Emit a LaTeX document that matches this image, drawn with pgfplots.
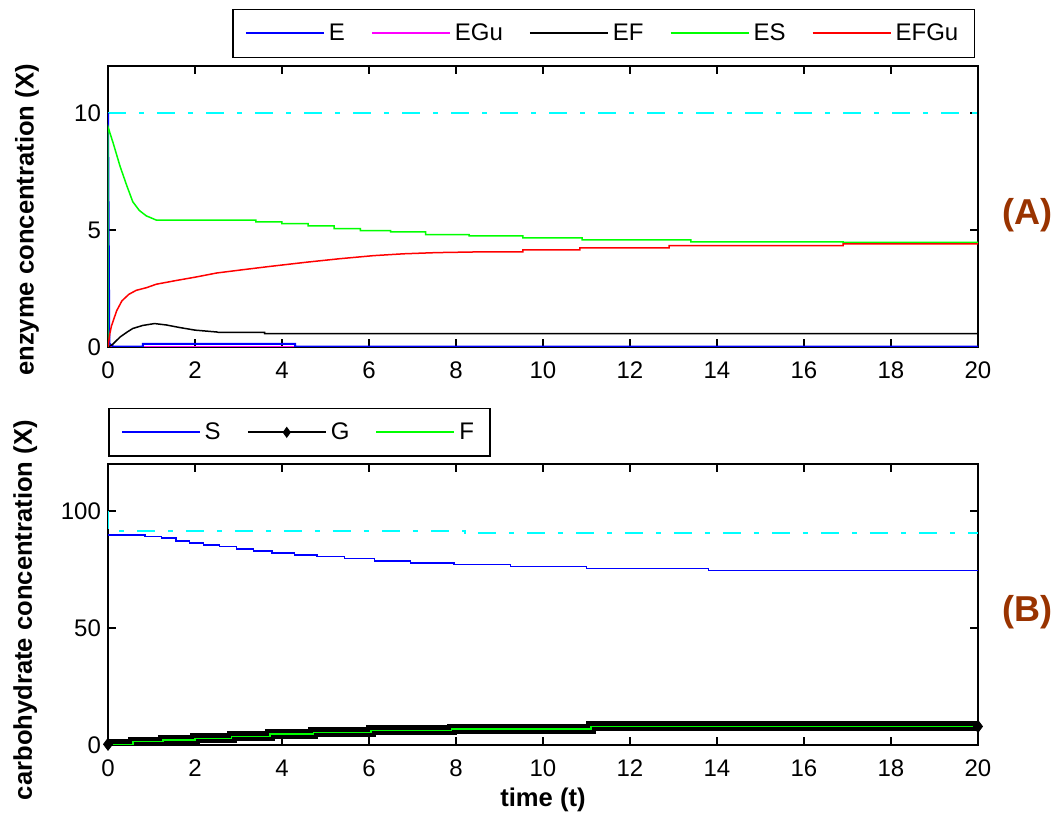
\documentclass[border=0pt]{standalone}
\usepackage{fontspec}
\setmainfont{Liberation Sans}
\usepackage{pgfplots}
\pgfplotsset{compat=1.18}

\definecolor{panelbrown}{rgb}{0.6,0.2,0}
\definecolor{mblue}{rgb}{0,0,1}
\definecolor{mgreen}{rgb}{0,1,0}
\definecolor{mred}{rgb}{1,0,0}
\definecolor{mcyan}{rgb}{0,1,1}
\definecolor{mmagenta}{rgb}{1,0,1}

\tikzset{dashdot/.style={mcyan, line width=1pt, dash pattern=on 9pt off 6.5pt on 2.5pt off 6.5pt}}

\pgfplotsset{
  panel/.style={
    scale only axis, width=435pt, height=140.5pt,
    xmin=0, xmax=20, xtick={0,2,...,20},
    tick align=inside, major tick length=4pt,
    axis line style={line width=0.75pt},
    every tick/.style={black, line width=0.75pt},
    tick label style={font=\fontsize{12}{14}\selectfont},
    xticklabel style={yshift=-4pt},
    /pgf/number format/assume math mode=true,
    label style={font=\bfseries\fontsize{12.8}{15}\selectfont},
    legend cell align=left,
    legend style={line width=0.75pt,
      font=\fontsize{12}{14}\selectfont,
      inner xsep=6pt, inner ysep=5pt},
  },
  linelegend/.style={legend image code/.code={
    \draw[draw=#1, line width=1pt] (0pt,0pt) -- (39pt,0pt);}},
}

\begin{document}
\begin{tikzpicture}
\useasboundingbox (0,0) rectangle (528pt,408.5pt);

% ---------------- enzymes ----------------
\begin{axis}[panel,
  at={(54pt,235pt)}, anchor=south west,
  ymin=0, ymax=12, ytick={0,5,10},
  ylabel={enzyme concentration (X)},
  ylabel style={at={(axis description cs:-0.093,0.452)}, anchor=center},
  legend columns=-1,
  legend style={at={(axis description cs:0.9966,1.028)}, anchor=south east,
    /tikz/every even column/.append style={column sep=11pt}},
]
\addlegendimage{linelegend=mblue}
\addlegendimage{linelegend=mmagenta}
\addlegendimage{linelegend=black}
\addlegendimage{linelegend=mgreen}
\addlegendimage{linelegend=mred}
\addplot[dashdot, forget plot] coordinates {(0,10) (20,10)};
% EGu
\addplot[mmagenta, line width=0.5pt, forget plot] coordinates {(0,0) (20,0)};
% E
\addplot[mblue, line width=1pt, forget plot] coordinates {
  (0,10) (0.03,0.15) (0.12,0.02) (0.8,0.02) (0.8,0.13) (4.3,0.13)
  (4.3,0.02) (20,0.02)};
% EF
\addplot[black, line width=0.75pt, forget plot] coordinates {
  (0,0) (0.1,0.1) (0.28,0.43) (0.45,0.65) (0.57,0.79) (0.8,0.92)
  (1.07,1.0) (1.34,0.94) (1.65,0.83) (2.0,0.72) (2.5,0.64) (2.55,0.62)
  (3.6,0.62) (3.6,0.57) (20,0.57)};
% ES
\addplot[mgreen, line width=0.75pt, forget plot] coordinates {
  (0,0) (0,9.4) (0.12,8.7) (0.28,7.7) (0.43,6.9) (0.57,6.2) (0.72,5.83)
  (0.88,5.6) (1.11,5.42) (3.4,5.42) (3.4,5.34) (4.0,5.34) (4.0,5.27)
  (4.6,5.27) (4.6,5.17) (5.2,5.17) (5.2,5.05) (5.8,5.05) (5.8,4.97)
  (6.5,4.97) (6.5,4.92) (7.3,4.92) (7.3,4.8) (8.3,4.8) (8.3,4.74)
  (9.54,4.74) (9.54,4.66) (10.9,4.66) (10.9,4.57) (13.4,4.57)
  (13.4,4.49) (16.9,4.49) (16.9,4.47) (20,4.47)};
% EFGu
\addplot[mred, line width=0.75pt, forget plot] coordinates {
  (0,0) (0.04,0.55) (0.08,0.9) (0.2,1.55) (0.32,1.97) (0.48,2.25)
  (0.65,2.42) (0.88,2.53) (1.11,2.68) (1.57,2.84) (2.0,2.98) (2.5,3.16)
  (3.1,3.3) (3.72,3.44) (4.56,3.62) (5.33,3.77) (6.1,3.9) (6.8,3.98)
  (7.55,4.03) (8.5,4.06) (9.54,4.06) (9.54,4.15) (10.85,4.15)
  (10.85,4.23) (12.9,4.23) (12.9,4.33) (16.9,4.33) (16.9,4.4) (20,4.4)};
\legend{E,EGu,EF,ES,EFGu}
\end{axis}

% ---------------- carbohydrates ----------------
\begin{axis}[panel,
  at={(54pt,36pt)}, anchor=south west,
  ymin=0, ymax=120, ytick={0,50,100},
  ylabel={carbohydrate concentration (X)},
  ylabel style={at={(axis description cs:-0.095,0.48)}, anchor=center},
  xlabel={time (t)},
  xlabel style={at={(axis description cs:0.5,-0.197)}, anchor=center},
  legend columns=3,
  legend style={at={(axis description cs:0,1.025)}, anchor=south west,
    /tikz/every even column/.append style={column sep=11pt}},
]
\addlegendimage{linelegend=mblue}
\addlegendimage{legend image code/.code={
    \draw[black, line width=1pt] (0pt,0pt) -- (39pt,0pt);
    \fill[black] (19.5pt,0pt) +(-1.6pt,0pt) -- +(0pt,2.2pt) -- +(1.6pt,0pt) -- +(0pt,-2.2pt) -- cycle;}}
\addlegendimage{linelegend=mgreen}
\addplot[dashdot, forget plot] coordinates {
  (0,100) (0,91.4) (8.2,91.4) (8.2,90.6) (20,90.6)};
% S
\addplot[mblue, line width=0.75pt, const plot, forget plot] coordinates {
  (0,89.7) (0.85,89.0) (1.23,88.3) (1.56,87.1) (1.87,86.2) (2.2,85.4)
  (2.56,84.7) (2.95,83.7) (3.35,82.8) (3.77,82.0) (4.29,81.1) (4.8,80.4)
  (5.44,79.6) (6.13,78.6) (6.95,77.7) (7.95,77.1) (9.25,76.2)
  (11.0,75.4) (13.8,74.5) (20,74.5)};
% G
\addplot[black, line width=5pt, const plot, forget plot] coordinates {
  (0,0.3) (0.57,1.4) (1.26,2.2) (2.0,2.8) (2.84,3.7) (3.72,4.6)
  (4.72,5.4) (6.05,6.2) (7.9,6.9) (11.1,7.9) (20,7.9)};
\addplot[black, only marks, mark=diamond*, mark size=3pt, forget plot]
  coordinates {(0,0.3) (20,7.9)};
% F
\addplot[mgreen, line width=0.75pt, const plot, forget plot] coordinates {
  (0,0.3) (0.57,1.4) (1.26,2.2) (2.0,2.8) (2.84,3.7) (3.72,4.6)
  (4.72,5.4) (6.05,6.2) (7.9,6.9) (11.1,7.9) (20,7.9)};
\legend{S,G,F}
\end{axis}

\node[text=panelbrown, font=\bfseries\fontsize{18}{20}\selectfont] at (513.5pt,301pt) {(A)};
\node[text=panelbrown, font=\bfseries\fontsize{18}{20}\selectfont] at (513.5pt,102.5pt) {(B)};
\end{tikzpicture}
\end{document}
